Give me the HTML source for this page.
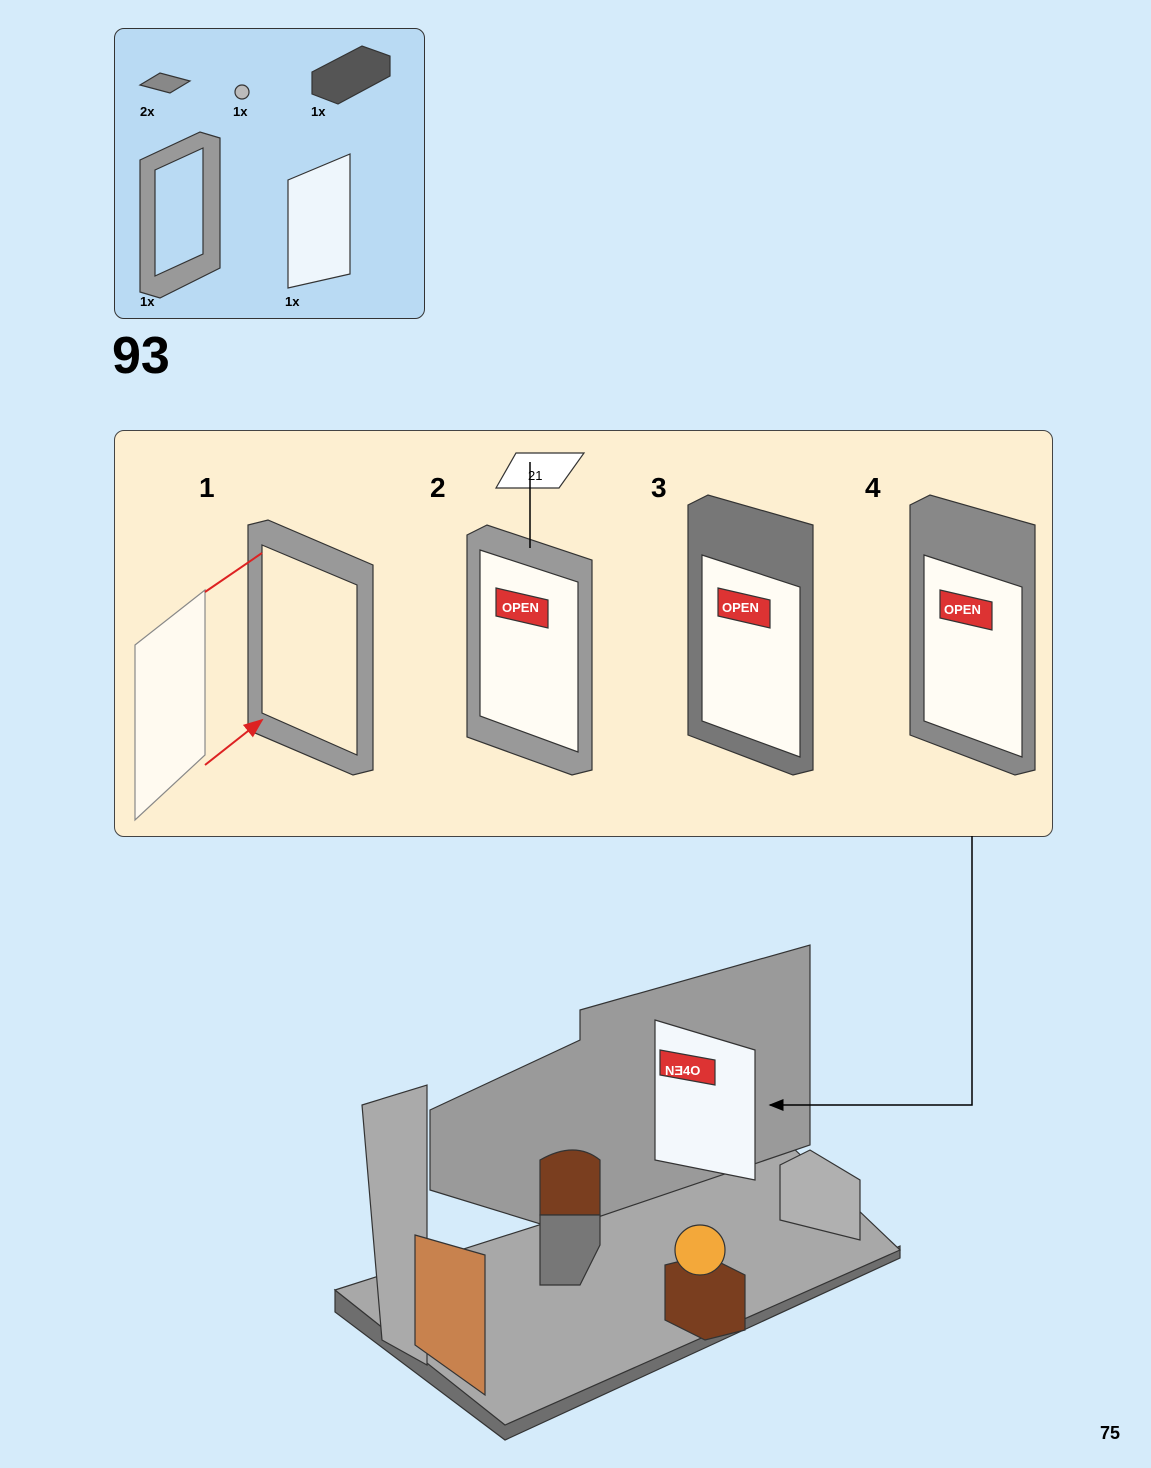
<!DOCTYPE html>
<html><head><meta charset="utf-8"><style>
body{margin:0;width:1151px;height:1468px;background:#d5ebfa;position:relative;overflow:hidden;font-family:"Liberation Sans",sans-serif}
.t{position:absolute;font-weight:bold;color:#000}
</style></head><body>
<div style="position:absolute;left:114px;top:28px;width:309px;height:289px;background:#b9daf3;border:1.5px solid #333;border-radius:10px"></div>
<svg width="1151" height="1468" style="position:absolute;left:0;top:0">
<defs><marker id="a" markerWidth="10" markerHeight="8" refX="9" refY="4" orient="auto"><path d="M0,0L10,4L0,8z" fill="#000"/></marker>
<marker id="r" markerWidth="10" markerHeight="8" refX="9" refY="4" orient="auto"><path d="M0,0L10,4L0,8z" fill="#d22"/></marker></defs>
<g stroke="#333" stroke-width="1.2">
<path d="M140,85l20,-12l30,8l-20,12z" fill="#888"/>
<circle cx="242" cy="92" r="7" fill="#bbb"/>
<path d="M312,72l50,-26l28,10v20l-52,28l-26,-10z" fill="#555"/>
<path d="M140,160l60,-28l20,6v130l-60,30l-20,-6z" fill="#999"/>
<path d="M155,170l48,-22v106l-48,22z" fill="#b9daf3"/>
<path d="M288,180l62,-26v120l-62,14z" fill="#eef6fc"/>
</g></svg>
<div class="t" style="left:140px;top:104px;font-size:13px">2x</div>
<div class="t" style="left:233px;top:104px;font-size:13px">1x</div>
<div class="t" style="left:311px;top:104px;font-size:13px">1x</div>
<div class="t" style="left:140px;top:294px;font-size:13px">1x</div>
<div class="t" style="left:285px;top:294px;font-size:13px">1x</div>
<div class="t" style="left:112px;top:326px;font-size:52px">93</div>
<div style="position:absolute;left:114px;top:430px;width:937px;height:405px;background:#fdefd1;border:1.5px solid #444;border-radius:10px"></div>
<div class="t" style="left:199px;top:472px;font-size:28px">1</div>
<div class="t" style="left:430px;top:472px;font-size:28px">2</div>
<div class="t" style="left:651px;top:472px;font-size:28px">3</div>
<div class="t" style="left:865px;top:472px;font-size:28px">4</div>
<div class="t" style="left:1100px;top:1423px;font-size:18px">75</div>
<svg width="1151" height="1468" style="position:absolute;left:0;top:0">
<defs><marker id="a2" markerWidth="10" markerHeight="8" refX="9" refY="4" orient="auto"><path d="M0,0L10,4L0,8z" fill="#000"/></marker>
<marker id="r2" markerWidth="10" markerHeight="8" refX="9" refY="4" orient="auto"><path d="M0,0L10,4L0,8z" fill="#d22"/></marker></defs>
<g stroke="#333" stroke-width="1.2">
<path d="M248,525l20,-5l105,45v205l-20,5l-105,-45z" fill="#999"/>
<path d="M262,545l95,40v170l-95,-42z" fill="#fdefd1"/>
<path d="M135,645l70,-55v165l-70,65z" fill="#fffaf0" stroke="#888"/>
<path d="M467,535l20,-10l105,35v210l-20,5l-105,-38z" fill="#999"/>
<path d="M480,550l98,32v170l-98,-36z" fill="#fffcf4"/>
<path d="M496,588l52,12v28l-52,-12z" fill="#d33"/>
<path d="M688,505l20,-10l105,30v245l-20,5l-105,-40z" fill="#777"/>
<path d="M702,555l98,32v170l-98,-36z" fill="#fffcf4"/>
<path d="M718,588l52,12v28l-52,-12z" fill="#d33"/>
<path d="M910,505l20,-10l105,30v245l-20,5l-105,-40z" fill="#888"/>
<path d="M924,555l98,32v170l-98,-36z" fill="#fffcf4"/>
<path d="M940,590l52,12v28l-52,-12z" fill="#d33"/>
<path d="M496,488l20,-35h68l-25,35z" fill="#fff"/>
<!-- model base -->
<path d="M335,1290v22l170,128l395,-182v-12l-395,178z" fill="#6e6e6e"/>
<path d="M335,1290l455,-145l110,105l-395,175z" fill="#a8a8a8"/>
<path d="M362,1105l65,-20v280l-45,-25z" fill="#aaa"/>
<path d="M430,1110l150,-70v-30l230,-65v200l-250,85l-130,-40z" fill="#9a9a9a"/>
<path d="M780,1165l30,-15l50,30v60l-80,-20z" fill="#b0b0b0"/>
<path d="M655,1020l100,30v130l-100,-20z" fill="#f3f8fc"/>
<path d="M660,1050l55,10v25l-55,-10z" fill="#d33"/>
<path d="M540,1160q35,-20 60,0v55h-60z" fill="#7a3e1f"/>
<path d="M540,1215h60v30l-20,40h-40z" fill="#777"/>
<path d="M415,1235l70,20v140l-70,-50z" fill="#c8824e"/>
<path d="M665,1265l40,-10l40,20v55l-40,10l-40,-20z" fill="#7a3e1f"/>
<circle cx="700" cy="1250" r="25" fill="#f3a83a"/>
</g>
<path d="M530,462V548" stroke="#000" stroke-width="1.5"/>
<path d="M205,592L262,553M205,765L262,720" stroke="#d22" stroke-width="2" marker-end="url(#r2)"/>
<path d="M972,836V1105H770" fill="none" stroke="#000" stroke-width="1.5" marker-end="url(#a2)"/>
<text x="502" y="612" font-size="13" font-weight="bold" fill="#fff" font-family="Liberation Sans">OPEN</text>
<text x="722" y="612" font-size="13" font-weight="bold" fill="#fff" font-family="Liberation Sans">OPEN</text>
<text x="944" y="614" font-size="13" font-weight="bold" fill="#fff" font-family="Liberation Sans">OPEN</text>
<text x="665" y="1075" font-size="13" font-weight="bold" fill="#fff" font-family="Liberation Sans">NƎ4O</text>
<text x="528" y="480" font-size="13" fill="#000" font-family="Liberation Sans">21</text>
</svg>
</body></html>
